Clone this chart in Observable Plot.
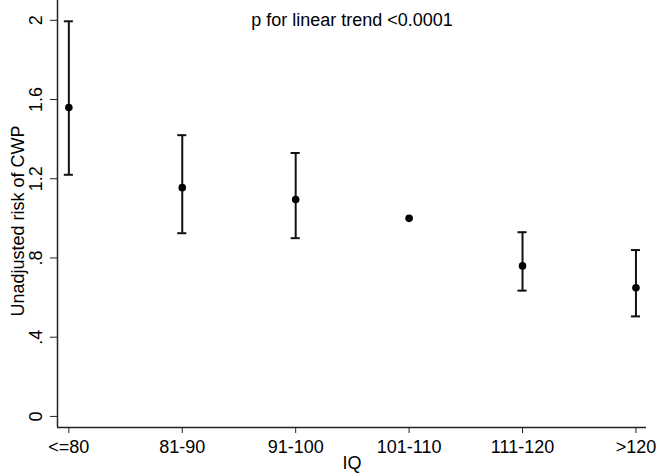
<!DOCTYPE html>
<html>
<head>
<meta charset="utf-8">
<script src="https://cdn.jsdelivr.net/npm/d3@7"></script>
<script src="https://cdn.jsdelivr.net/npm/@observablehq/plot@0.6"></script>
<style>
  html, body { margin: 0; padding: 0; background: #fff; }
</style>
</head>
<body>
<div id="chart"></div>
<script>
const categories = ["<=80", "81-90", "91-100", "101-110", "111-120", ">120"];
const risk  = [1.56, 1.155, 1.095, 1.00, 0.76, 0.65];
const lower = [1.22, 0.925, 0.90, null, 0.635, 0.505];
const upper = [1.995, 1.42, 1.33, null, 0.93, 0.84];
const yTicks = [0, 0.4, 0.8, 1.2, 1.6, 2];
const yTickLabels = ["0", ".4", ".8", "1.2", "1.6", "2"];
const title = "p for linear trend <0.0001";
const xLabel = "IQ";
const yLabel = "Unadjusted risk of CWP";

const rows = categories.map((c, i) => ({i, cat: c, risk: risk[i], lo: lower[i], hi: upper[i]}));
const ci = rows.filter(d => d.lo != null);
const yTickRows = yTicks.map((v, k) => ({v, label: yTickLabels[k]}));
const capHalf = 0.04;

const xDomain = [-0.1, 5.093];
const yDomain = [-0.056, 2.10];
const fs = 18;

const chart = Plot.plot({
  width: 656,
  height: 473,
  marginLeft: 57,
  marginRight: 10,
  marginTop: 0,
  marginBottom: 46,
  style: {fontFamily: "Liberation Sans, Arial, sans-serif", fontSize: fs + "px", color: "#000", background: "#fff"},
  x: {domain: xDomain, axis: null},
  y: {domain: yDomain, axis: null},
  marks: [
    Plot.ruleX([xDomain[0]], {stroke: "#222", strokeWidth: 1.5}),
    Plot.ruleY([yDomain[0]], {stroke: "#222", strokeWidth: 1.5}),
    Plot.axisX({
      ticks: d3.range(categories.length),
      tickFormat: i => categories[i],
      tickSize: 6, tickPadding: 7, fontSize: fs, label: null, anchor: "bottom",
      stroke: "#222"
    }),
    Plot.axisY({
      ticks: yTicks,
      tickFormat: () => "",
      tickSize: 7, label: null, anchor: "left",
      stroke: "#222"
    }),
    Plot.text(yTickRows, {
      x: () => xDomain[0], y: "v", text: "label",
      rotate: -90, textAnchor: "middle", lineAnchor: "middle",
      dx: -21, fontSize: fs, fill: "#000"
    }),
    Plot.ruleX(ci, {x: "i", y1: "lo", y2: "hi", stroke: "#111", strokeWidth: 2}),
    Plot.ruleY(ci, {y: "lo", x1: d => d.i - capHalf, x2: d => d.i + capHalf, stroke: "#111", strokeWidth: 2}),
    Plot.ruleY(ci, {y: "hi", x1: d => d.i - capHalf, x2: d => d.i + capHalf, stroke: "#111", strokeWidth: 2}),
    Plot.dot(rows, {x: "i", y: "risk", r: 3.8, fill: "#000", stroke: "none"}),
    Plot.text([title], {frameAnchor: "top", dy: 13, fontSize: fs, fill: "#000"}),
    Plot.text([xLabel], {frameAnchor: "bottom", dy: 41, fontSize: fs, fill: "#000"}),
    Plot.text([yLabel], {frameAnchor: "left", textAnchor: "middle", lineAnchor: "middle", dx: -39, dy: 7, rotate: -90, fontSize: fs, fill: "#000"})
  ]
});
document.getElementById("chart").appendChild(chart);
</script>
</body>
</html>
